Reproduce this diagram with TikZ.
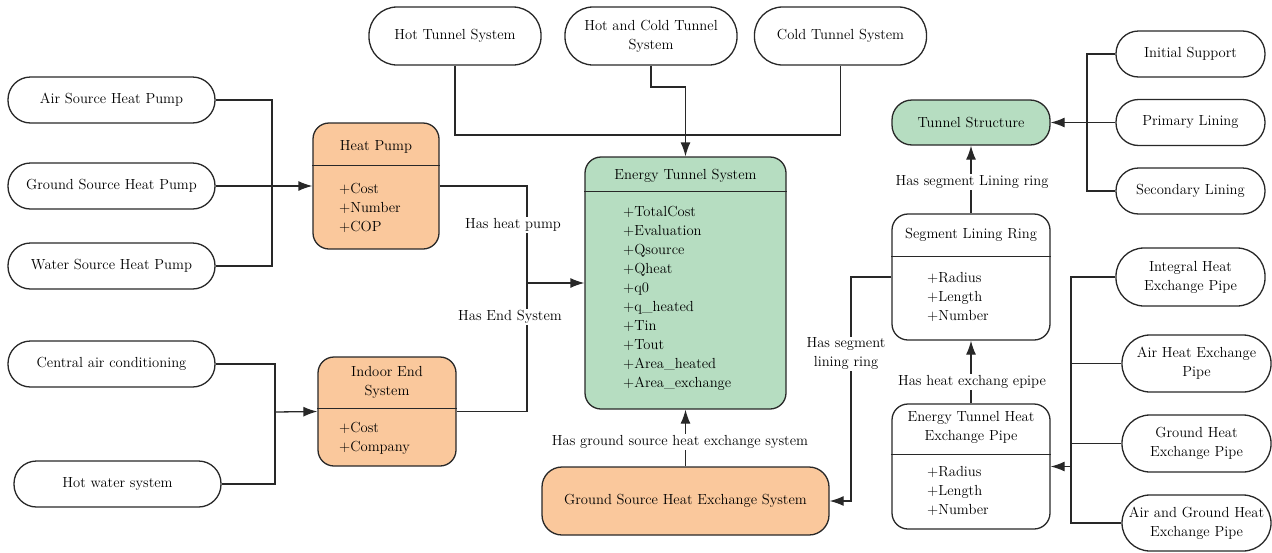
\documentclass[tikz,border=0pt]{standalone}
\usetikzlibrary{arrows.meta}
\definecolor{pumporange}{RGB}{250,200,156}
\definecolor{tunnelgreen}{RGB}{182,221,193}
\definecolor{edgegray}{RGB}{40,40,40}
\tikzset{
    every node/.style={font=\fontsize{14.6}{19}\selectfont},
    term/.style={draw=edgegray, line width=1.3pt, rounded corners=22.5pt,
        fill=white, align=center, inner sep=0pt},
    classbox/.style={draw=edgegray, line width=1.3pt, rounded corners=16pt,
        inner sep=0pt},
    attr/.style={anchor=west, align=left, inner sep=0pt},
    lbl/.style={fill=white, inner sep=1.5pt, align=center},
    link/.style={draw=edgegray, line width=1.3pt},
    arr/.style={link, -{Latex[length=14pt,width=10pt]}},
}
\begin{document}
\begin{tikzpicture}[x=1pt, y=-1pt]
    \useasboundingbox (0,0) rectangle (1272,552);

    % heat pump sources
    \node[term, minimum width=207pt, minimum height=46pt] (airhp) at (111.5,100) {Air Source Heat Pump};
    \node[term, minimum width=207pt, minimum height=46pt] (groundhp) at (111.5,186) {Ground Source Heat Pump};
    \node[term, minimum width=207pt, minimum height=46pt] (waterhp) at (111.5,266) {Water Source Heat Pump};
    \node[term, minimum width=207pt, minimum height=46pt] (centralac) at (111.5,364) {Central air conditioning};
    \node[term, minimum width=207pt, minimum height=46pt] (hotwater) at (117.5,484) {Hot water system};

    % tunnel systems
    \node[term, rounded corners=28pt, minimum width=172pt, minimum height=58pt] (hottun) at (455,36) {Hot Tunnel System};
    \node[term, rounded corners=28pt, minimum width=172pt, minimum height=58pt] (hotcoldtun) at (651,36) {Hot and Cold Tunnel\\System};
    \node[term, rounded corners=28pt, minimum width=172pt, minimum height=58pt] (coldtun) at (840.5,36) {Cold Tunnel System};

    % linings
    \node[term, minimum width=149pt, minimum height=46pt] (initsup) at (1190.5,54) {Initial Support};
    \node[term, minimum width=149pt, minimum height=46pt] (primlin) at (1190.5,122.5) {Primary Lining};
    \node[term, minimum width=149pt, minimum height=46pt] (seclin) at (1190.5,191) {Secondary Lining};

    % pipes
    \node[term, rounded corners=28pt, minimum width=149pt, minimum height=58pt] (integpipe) at (1190.5,277) {Integral Heat\\Exchange Pipe};
    \node[term, rounded corners=28pt, minimum width=149pt, minimum height=57pt] (airpipe) at (1196.5,363.5) {Air Heat Exchange\\Pipe};
    \node[term, rounded corners=28pt, minimum width=149pt, minimum height=57pt] (groundpipe) at (1196.5,443.5) {Ground Heat\\Exchange Pipe};
    \node[term, rounded corners=28pt, minimum width=149pt, minimum height=56pt] (agpipe) at (1196.5,523) {Air and Ground Heat\\Exchange Pipe};

    % heat pump
    \node[classbox, fill=pumporange, minimum width=126pt, minimum height=126pt] (heatpump) at (376,186) {};
    \draw[link] ([yshift=-43pt]heatpump.north west) -- ([yshift=-43pt]heatpump.north east);
    \node (heatpumptitle) at (376,147) {Heat Pump};
    \node[attr] (heatpumpattr) at (339,208) {+Cost\\+Number\\+COP};

    % indoor end system
    \node[classbox, fill=pumporange, minimum width=138pt, minimum height=109pt] (indoor) at (387,411.5) {};
    \draw[link] ([yshift=-52pt]indoor.north west) -- ([yshift=-52pt]indoor.north east);
    \node[align=center] (indoortitle) at (387,382.5) {Indoor End\\System};
    \node[attr] (indoorattr) at (339,438.5) {+Cost\\+Company};

    % energy tunnel system
    \node[classbox, fill=tunnelgreen, minimum width=201pt, minimum height=252pt] (energy) at (685.5,283) {};
    \draw[link] ([yshift=-35pt]energy.north west) -- ([yshift=-35pt]energy.north east);
    \node (energytitle) at (685.5,176) {Energy Tunnel System};
    \node[attr] (energyattr) at (623,298.5) {+TotalCost\\+Evaluation\\+Qsource\\+Qheat\\+q0\\+q\_heated\\+Tin\\+Tout\\+Area\_heated\\+Area\_exchange};

    % ground source heat exchange system
    \node[classbox, rounded corners=20pt, fill=pumporange, minimum width=287pt, minimum height=68pt] (gshes) at (685.5,501) {Ground Source Heat Exchange System};

    % tunnel structure
    \node[classbox, rounded corners=20pt, fill=tunnelgreen, minimum width=158pt, minimum height=45pt] (tunstruct) at (971,122.5) {Tunnel Structure};

    % segment lining ring
    \node[classbox, fill=white, minimum width=158pt, minimum height=126pt] (segring) at (971,277) {};
    \draw[link] ([yshift=-43pt]segring.north west) -- ([yshift=-43pt]segring.north east);
    \node (segringtitle) at (971,235) {Segment Lining Ring};
    \node[attr] (segringattr) at (927,296.5) {+Radius\\+Length\\+Number};

    % energy tunnel heat exchange pipe
    \node[classbox, fill=white, minimum width=158pt, minimum height=125pt] (tunpipe) at (971,466.5) {};
    \draw[link] ([yshift=-51pt]tunpipe.north west) -- ([yshift=-51pt]tunpipe.north east);
    \node[align=center] (tunpipetitle) at (971,427.5) {Energy Tunnel Heat\\Exchange Pipe};
    \node[attr] (tunpipeattr) at (927,491) {+Radius\\+Length\\+Number};

    % connectors
    \coordinate (jpump) at (272,186);
    \coordinate (jindoor) at (275,412);
    \coordinate (jenergy) at (527,283);
    \coordinate (jtop) at (685.5,135);
    \coordinate (jhotcold) at (685.5,87);
    \coordinate (jlining) at (1087,122.5);
    \coordinate (jpipe) at (1071,466.5);
    \coordinate (jseg) at (851,277);

    \draw[link] (airhp.east) -| (jpump) |- (waterhp.east);
    \draw[arr] (groundhp.east) -- (heatpump.west);
    \draw[link] (centralac.east) -| (jindoor) |- (hotwater.east);
    \draw[arr] (jindoor) -- (indoor.west);
    \draw[link] (heatpump.east) -| (jenergy) |- (indoor.east);
    \draw[arr] (jenergy) -- (energy.west);
    \draw[link] (hottun.south) |- (jtop) -| (coldtun.south);
    \draw[arr] (hotcoldtun.south) |- (jhotcold) -- (energy.north);
    \draw[arr] (gshes.north) -- (energy.south);
    \draw[link] (initsup.west) -| (jlining) |- (seclin.west);
    \draw[arr] (primlin.west) -- (tunstruct.east);
    \draw[arr] (segring.north) -- (tunstruct.south);
    \draw[arr] (tunpipe.north) -- (segring.south);
    \draw[arr] (segring.west) -- (jseg) |- (gshes.east);
    \draw[link] (integpipe.west) -| (jpipe) |- (agpipe.west);
    \draw[link] (airpipe.west) -- (airpipe.west -| jpipe);
    \draw[link] (groundpipe.west) -- (groundpipe.west -| jpipe);
    \draw[arr] (jpipe) -- (tunpipe.east);

    % connector labels
    \node[lbl] (lblpump) at (513,225) {Has heat pump};
    \node[lbl] (lblend) at (510,317) {Has End System};
    \node[lbl] (lblgshes) at (680,442) {Has ground source heat exchange system};
    \node[lbl] (lblring) at (972,182) {Has segment Lining ring};
    \node[lbl] (lblpipe) at (972,382) {Has heat exchang epipe};
    \node[lbl] (lblseg) at (846,354) {Has segment\\lining ring};
\end{tikzpicture}
\end{document}
